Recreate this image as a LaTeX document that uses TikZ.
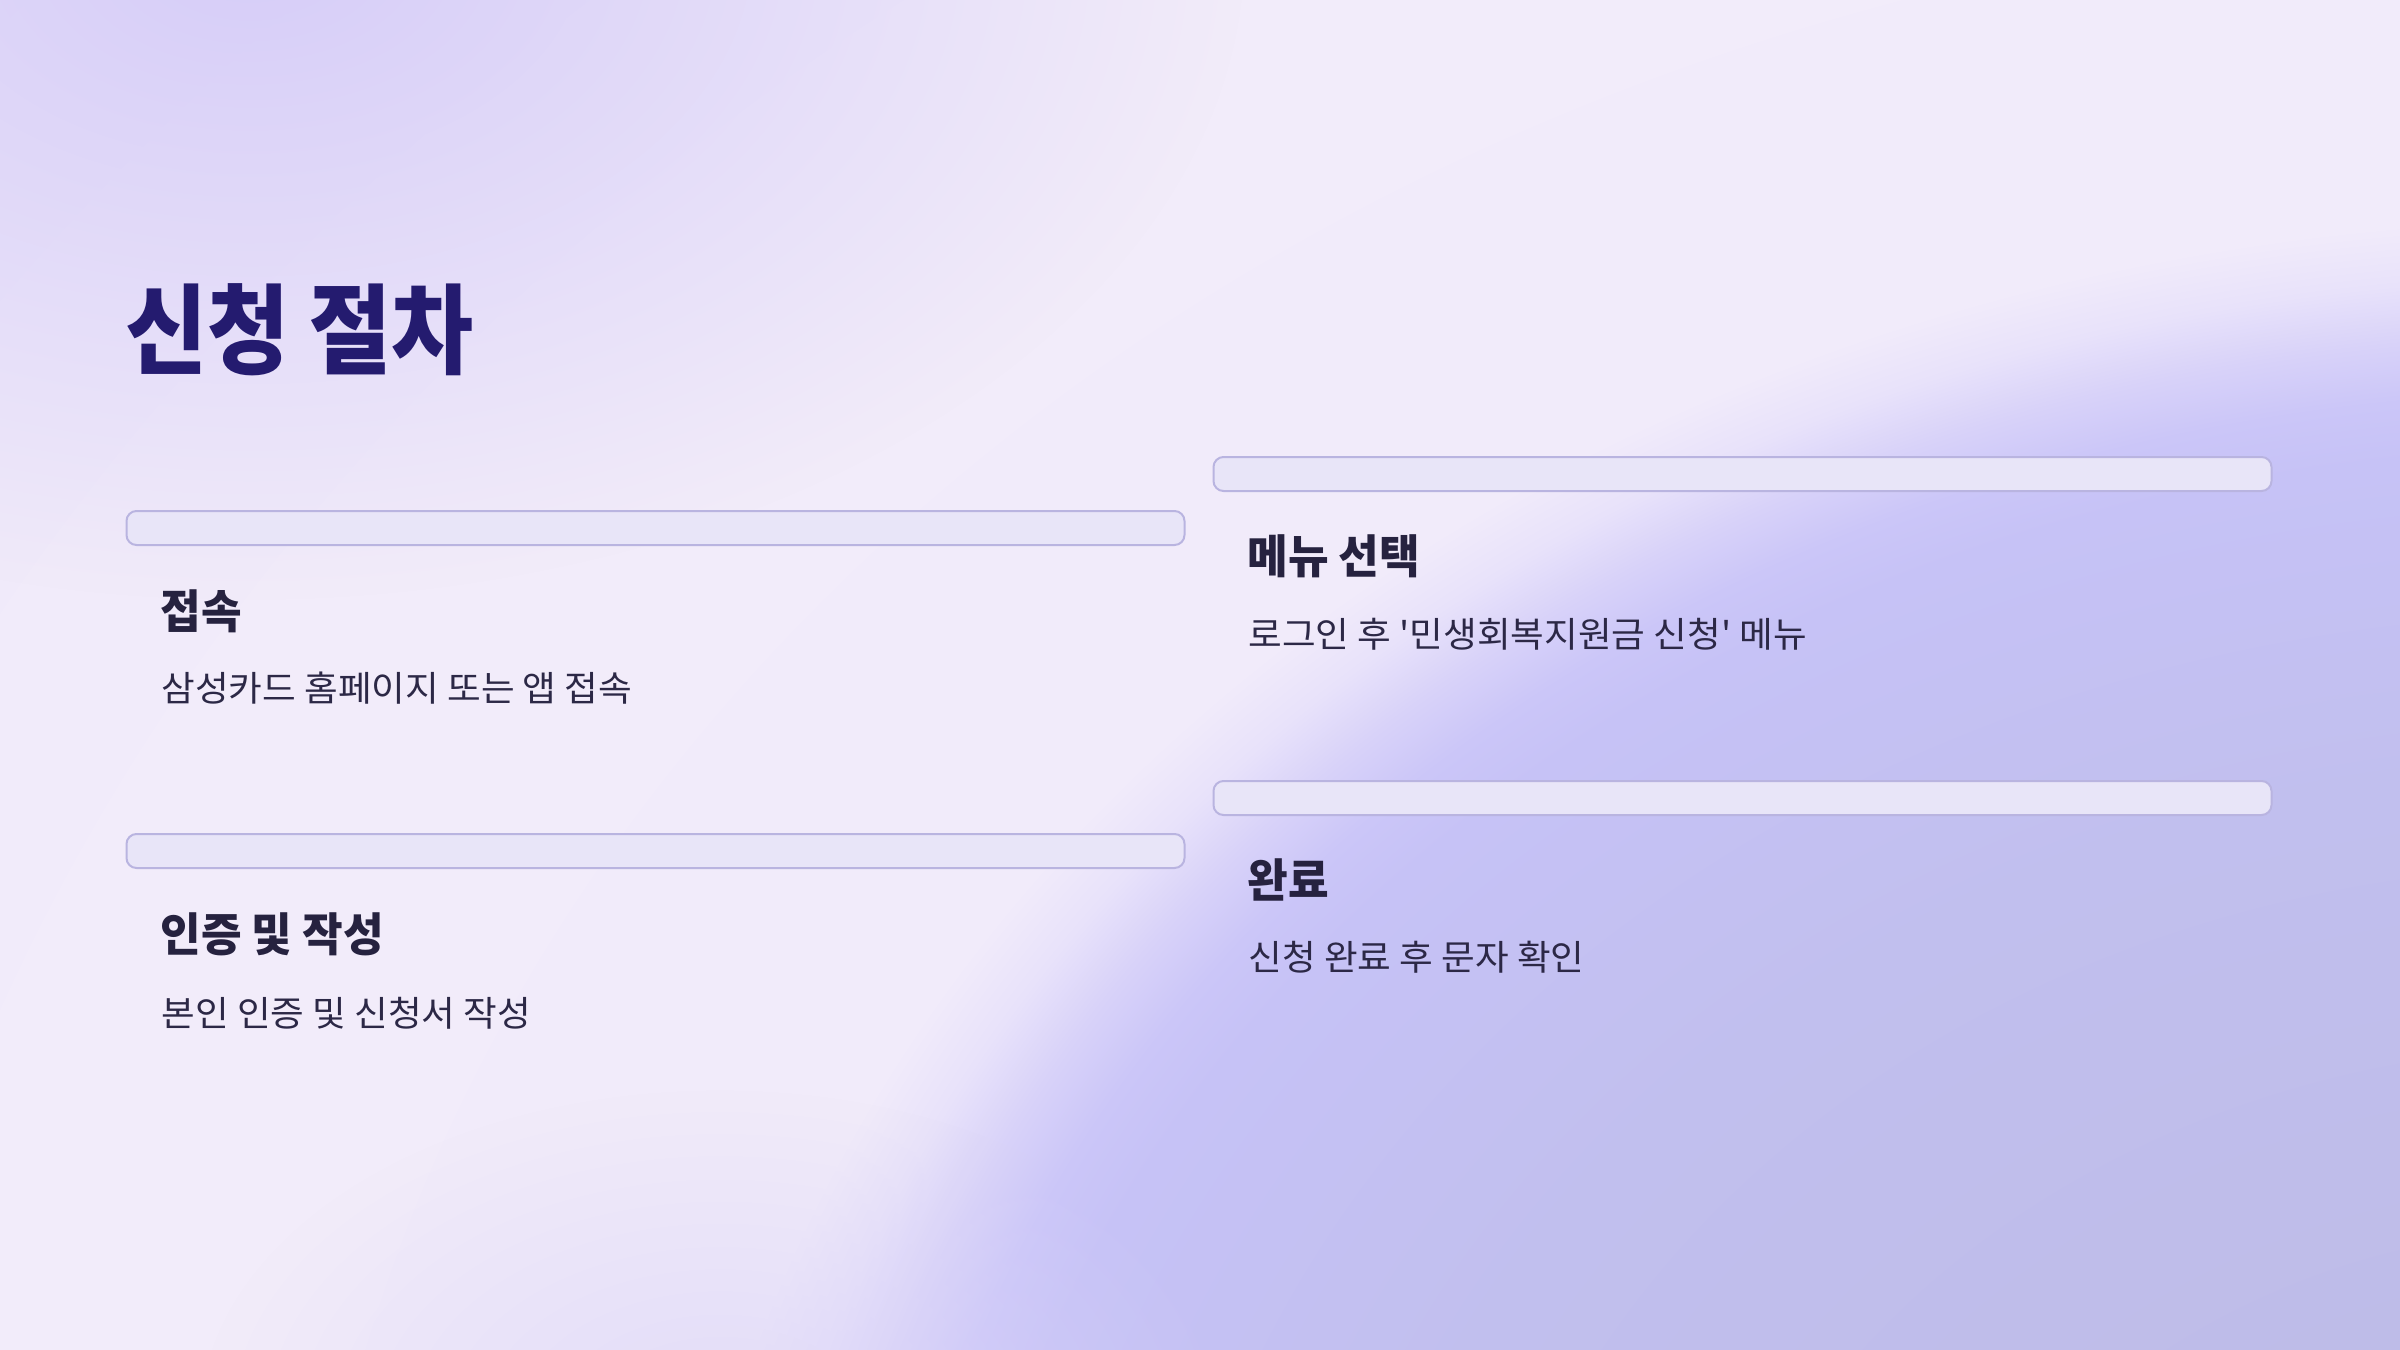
\documentclass[tikz,border=0pt]{standalone}
\usepackage{fontspec}
\setmainfont{Noto Sans CJK KR}
\newfontfamily\krtext{Noto Sans CJK KR}[FakeStretch=1.04]
\newfontfamily\krhead{Noto Sans CJK KR}[FakeStretch=0.96]
\newfontfamily\krtitle{Noto Sans CJK KR}[FakeStretch=0.91]
\usetikzlibrary{positioning}
\usetikzlibrary{fadings}

\definecolor{bglilac}{HTML}{D6CDF8}
\definecolor{bgmist}{HTML}{DCD6F8}
\definecolor{barfill}{HTML}{E8E5F8}
\definecolor{barline}{HTML}{B9B4E0}
\definecolor{titleink}{HTML}{241B6F}
\definecolor{headink}{HTML}{26223F}
\definecolor{descink}{HTML}{2C2846}

\definecolor{bga}{HTML}{BCBBE6}
\definecolor{bgb}{HTML}{BEBCE8}
\definecolor{bgc}{HTML}{C1BFEE}
\definecolor{bgd}{HTML}{C6C2F6}
\definecolor{bge}{HTML}{CBC6F8}
\definecolor{bgf}{HTML}{D8D2F9}
\definecolor{bgg}{HTML}{E8E2FA}
\definecolor{bgh}{HTML}{F1EBFA}
\definecolor{bgi}{HTML}{F2ECFA}
\definecolor{bgj}{HTML}{EEE8FA}

% glow from the lower right corner
\pgfdeclareradialshading{bgglow}{\pgfpointorigin}{color(0bp)=(bga); color(3.75bp)=(bgb);
  color(7.95bp)=(bgc); color(10.45bp)=(bgd); color(10.91bp)=(bge); color(11.36bp)=(bgf);
  color(11.81bp)=(bgg); color(12.27bp)=(bgh); color(17bp)=(bgi); color(22.15bp)=(bgj);
  color(50bp)=(bgj)}

\tikzfading[name=blobfade, inner color=transparent!0, outer color=transparent!100]

\begin{document}
\begin{tikzpicture}[x=0.5pt, y=-0.5pt,
    bar/.style={draw=barline, line width=1pt, fill=barfill, rounded corners=5pt,
        minimum width=529pt, minimum height=17pt, inner sep=0pt, outer sep=0pt},
    stephead/.style={inner sep=0pt, outer sep=0pt, text=headink,
        font=\krhead\bfseries\fontsize{23}{28}\selectfont},
    stepdesc/.style={inner sep=0pt, outer sep=0pt, text=descink,
        font=\krtext\fontsize{17.6}{21}\selectfont}]

    % background
    \begin{scope}
        \clip (0,0) rectangle (2400,1350) ; %
        \shade[overlay, shading=bgglow] (2600,1800) ellipse (3929 and 3225) ; %
        \fill[overlay, bglilac, path fading=blobfade] (250,-50) ellipse (1000 and 650) ; %
        \fill[overlay, bgmist, opacity=0.7, path fading=blobfade] (720,1420) ellipse (520 and 330) ; %
    \end{scope}
    \useasboundingbox (0,0) rectangle (2400,1350) ; %

    \node[anchor=north west, inner sep=0pt, text=titleink, font=\krtitle\bfseries\fontsize{49}{56}\selectfont] (title) at (125,283) {신청 절차} ; %

    \node[bar] (access_bar) at (655.5,528) {} ; %
    \node[bar, below=144.5pt of access_bar] (auth_bar) {} ; %
    \node[bar, right=14.5pt of access_bar, yshift=27pt] (menu_bar) {} ; %
    \node[bar, below=145pt of menu_bar] (done_bar) {} ; %

    \node[stephead, below right=22.5pt and 17pt of access_bar.south west] (access_head) {접속} ; %
    \node[stepdesc, below right=19.5pt and 0.5pt of access_head.south west] (access_desc) {삼성카드 홈페이지 또는 앱 접속} ; %

    \node[stephead, below right=22.5pt and 17pt of auth_bar.south west] (auth_head) {인증 및 작성} ; %
    \node[stepdesc, below right=20.5pt and 0.5pt of auth_head.south west] (auth_desc) {본인 인증 및 신청서 작성} ; %

    \node[stephead, below right=22pt and 17pt of menu_bar.south west] (menu_head) {메뉴 선택} ; %
    \node[stepdesc, below right=20pt and 0.5pt of menu_head.south west] (menu_desc) {로그인 후 '민생회복지원금 신청' 메뉴} ; %

    \node[stephead, below right=22pt and 17pt of done_bar.south west] (done_head) {완료} ; %
    \node[stepdesc, below right=20pt and 0.5pt of done_head.south west] (done_desc) {신청 완료 후 문자 확인} ; %

\end{tikzpicture}
\end{document}
